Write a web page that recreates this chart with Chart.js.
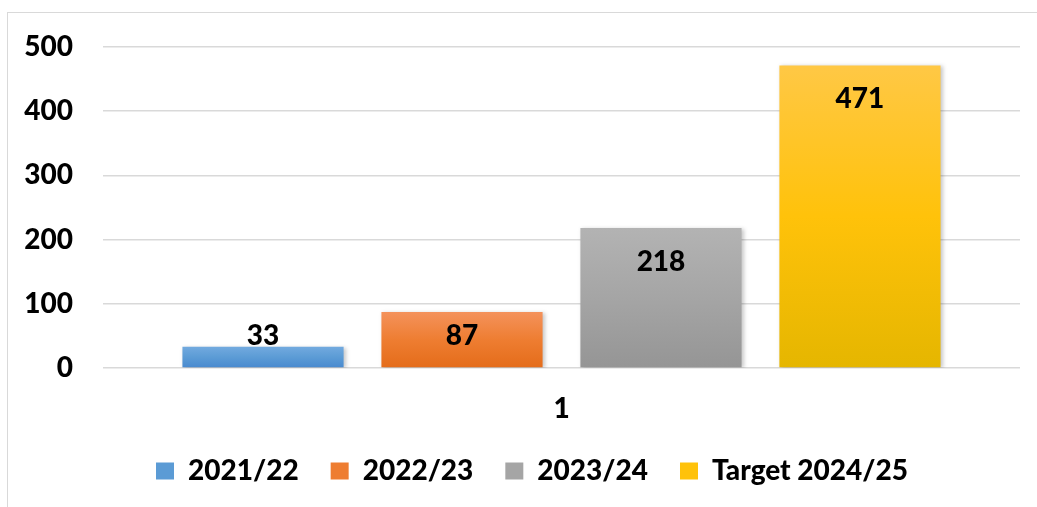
<!DOCTYPE html>
<html>
<head>
<meta charset="utf-8">
<script src="https://cdn.jsdelivr.net/npm/chart.js@4.4.1/dist/chart.umd.min.js"></script>
<style>
  html, body { margin: 0; padding: 0; background: #fff; overflow: hidden; }
  #frame { position: absolute; left: 7px; top: 12px; width: 1100px; height: 600px; border: 1.5px solid #d9d9d9; }
  #wrap { position: absolute; left: 0; top: 0; width: 1037px; height: 507px; }
</style>
</head>
<body>
<div id="frame"></div>
<div id="wrap"><canvas id="chart"></canvas></div>
<script>
// data
const categories = ['1'];
const seriesNames = ['2021/22', '2022/23', '2023/24', 'Target 2024/25'];
const values2021 = [33];
const values2022 = [87];
const values2023 = [218];
const valuesTarget = [471];
const yTicks = [0, 100, 200, 300, 400, 500];

// gradient stops per series: top, middle, bottom
const palettes = [
  ['#72AADF', '#5B9BD5', '#4889CF'],
  ['#F4925B', '#EE7D31', '#E46C1A'],
  ['#B3B3B3', '#A5A5A5', '#959595'],
  ['#FFC845', '#FFC20A', '#E5B600'],
];

function barFill(idx) {
  return (c) => {
    const chart = c.chart;
    const y = chart.scales && chart.scales.y;
    if (!y || c.parsed === undefined || !chart.chartArea) return palettes[idx][1];
    const top = y.getPixelForValue(c.parsed.y);
    const base = y.getPixelForValue(0);
    if (!isFinite(top) || !isFinite(base) || top === base) return palettes[idx][1];
    const g = chart.ctx.createLinearGradient(0, top, 0, base);
    g.addColorStop(0, palettes[idx][0]);
    g.addColorStop(0.5, palettes[idx][1]);
    g.addColorStop(1, palettes[idx][2]);
    return g;
  };
}

const shadowPlugin = {
  id: 'barShadow',
  beforeDatasetDraw(chart) {
    const ctx = chart.ctx;
    ctx.save();
    ctx.shadowColor = 'rgba(0,0,0,0.22)';
    ctx.shadowBlur = 4;
    ctx.shadowOffsetX = 2;
    ctx.shadowOffsetY = 1;
  },
  afterDatasetDraw(chart) {
    chart.ctx.restore();
  }
};

// legend sits a bit right of the canvas centre
const legendShift = {
  id: 'legendShift',
  afterLayout(chart) {
    if (chart.legend) chart.legend.left = 44;
  }
};

// value labels: inside end, pushed up when the bar is too short
const labelPlugin = {
  id: 'valueLabels',
  afterDatasetsDraw(chart) {
    const ctx = chart.ctx;
    ctx.save();
    ctx.font = '900 28px Lato';
    ctx.fillStyle = '#000';
    ctx.textAlign = 'center';
    ctx.textBaseline = 'middle';
    chart.data.datasets.forEach((ds, i) => {
      chart.getDatasetMeta(i).data.forEach((bar, j) => {
        const y = Math.min(bar.y + 34, bar.base - 31);
        ctx.fillText(String(ds.data[j]), bar.x, y);
      });
    });
    ctx.restore();
  }
};

function draw() {
  Chart.defaults.font.family = 'Lato';
  Chart.defaults.font.weight = '900';
  Chart.defaults.font.size = 28;
  Chart.defaults.color = '#000';

  const seriesData = [values2021, values2022, values2023, valuesTarget];

  new Chart(document.getElementById('chart'), {
    type: 'bar',
    data: {
      labels: categories,
      datasets: seriesNames.map((name, i) => ({
        label: name,
        data: seriesData[i],
        backgroundColor: barFill(i),
        borderWidth: 0,
        categoryPercentage: 0.868,
        barPercentage: 0.81,
      })),
    },
    options: {
      responsive: true,
      maintainAspectRatio: false,
      animation: false,
      layout: { padding: { top: 41, right: 17, bottom: 12, left: 0 } },
      scales: {
        x: {
          grid: { display: false },
          border: { display: false },
          ticks: { padding: 16, font: { size: 28, weight: '900' } },
          afterFit(s) { s.height = 57; },
        },
        y: {
          min: 0,
          max: 500,
          afterBuildTicks(s) { s.ticks = yTicks.map(v => ({ value: v })); },
          grid: { color: '#d9d9d9', lineWidth: 1.5, drawTicks: false },
          border: { display: false },
          ticks: { padding: 30, font: { size: 28, weight: '900' } },
          afterFit(s) { s.width = 103; },
        },
      },
      plugins: {
        tooltip: { enabled: false },
        legend: {
          position: 'bottom',
          labels: {
            boxWidth: 18,
            boxHeight: 17,
            padding: 32,
            font: { size: 28, weight: '900' },
            generateLabels(chart) {
              return chart.data.datasets.map((ds, i) => ({
                text: ds.label,
                fillStyle: palettes[i][1],
                strokeStyle: palettes[i][1],
                lineWidth: 0,
                hidden: false,
                datasetIndex: i,
              }));
            },
          },
        },
      },
    },
    plugins: [shadowPlugin, legendShift, labelPlugin],
  });
}

document.fonts.load('900 28px Lato').then(draw, draw);
</script>
</body>
</html>
